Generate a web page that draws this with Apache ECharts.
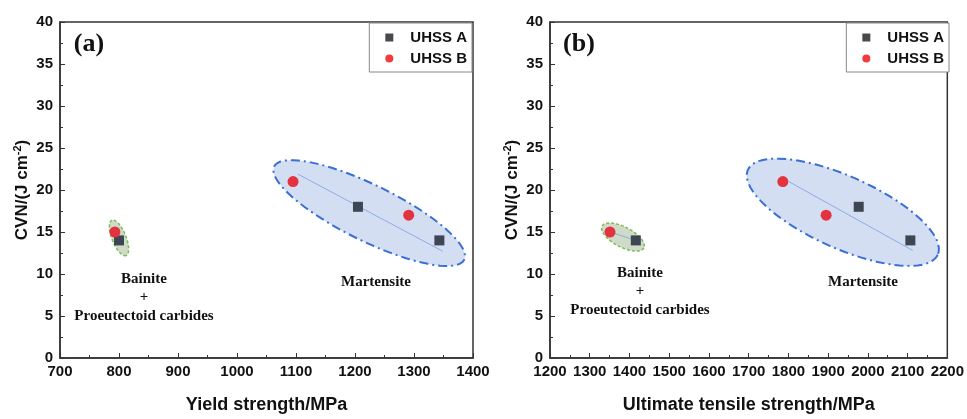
<!DOCTYPE html>
<html lang="en">
<head>
    <meta charset="utf-8">
    <title>CVN vs strength</title>
    <script type="text/javascript" src="https://cdn.jsdelivr.net/npm/echarts@6/dist/echarts.min.js"></script>
    <style>
        html, body { margin: 0; padding: 0; background: #fff; }
    </style>
</head>
<body>
<div id="main" style="width: 967px;height:419px;"></div>
<script>
    // data
    var cvnA = [14, 18, 14];
    var cvnB = [15, 21, 17];
    var ysA = [800, 1205, 1343];
    var ysB = [793, 1095, 1291];
    var utsA = [1416, 1977, 2107];
    var utsB = [1351, 1786, 1895];

    // fitted lines inside the martensite / bainite groups [x1, y1, x2, y2]
    var fitYs = [[1103, 21.9, 1349, 12.7], [793, 15, 800, 14]];
    var fitUts = [[1801, 21.0, 2113, 12.8], [1351, 15, 1416, 14]];

    // ellipse major-axis tips in data units [x1, y1, x2, y2]
    var ellYs = [[1063, 22.8, 1385, 11.7], [788, 16.4, 812, 12.2]];
    var ellUts = [[1698, 22.4, 2176, 12.3], [1331, 15.7, 1436, 13.1]];

    function pairs(xs, ys) {
        var out = [];
        for (var i = 0; i < xs.length; i++) out.push([xs[i], ys[i]]);
        return out;
    }

    var axisFont = {fontFamily: 'Liberation Sans, Arial', fontWeight: 'bold', fontSize: 15, color: '#111'};
    var nameFont = {fontFamily: 'Liberation Sans, Arial', fontWeight: 'bold', fontSize: 18, color: '#111'};

    function xAxisOf(idx, min, max, name) {
        return {
            gridIndex: idx, type: 'value', min: min, max: max, interval: 100,
            name: name, nameLocation: 'middle', nameGap: 38, nameTextStyle: nameFont,
            axisLine: {lineStyle: {color: '#333', width: 1.5}},
            axisTick: {inside: true, length: 5, lineStyle: {color: '#333'}},
            minorTick: {show: true, splitNumber: 2, length: 3, lineStyle: {color: '#333'}},
            axisLabel: Object.assign({margin: 6, formatter: function (v) { return String(v); }}, axisFont),
            splitLine: {show: false}
        };
    }
    function yAxisOf(idx) {
        return {
            gridIndex: idx, type: 'value', min: 0, max: 40, interval: 5,
            name: '{t|CVN/(J cm}{s|-2}{t|)}', nameLocation: 'middle', nameGap: 27, nameRotate: 90,
            nameTextStyle: {rich: {
                t: {fontFamily: 'Liberation Sans, Arial', fontWeight: 'bold', fontSize: 17, color: '#111'},
                s: {fontFamily: 'Liberation Sans, Arial', fontWeight: 'bold', fontSize: 11, color: '#111', padding: [0, 0, 10, 0]}
            }},
            axisLine: {lineStyle: {color: '#333', width: 1.5}},
            axisTick: {inside: true, length: 5, lineStyle: {color: '#333'}},
            minorTick: {show: true, splitNumber: 2, length: 3, lineStyle: {color: '#333'}},
            axisLabel: Object.assign({margin: 7}, axisFont),
            splitLine: {show: false}
        };
    }

    function ellipseSeries(idx, tips, colors) {
        return {
            type: 'custom', xAxisIndex: idx, yAxisIndex: idx, z: 1, silent: true,
            data: tips,
            renderItem: function (params, api) {
                var p1 = api.coord([api.value(0), api.value(1)]);
                var p2 = api.coord([api.value(2), api.value(3)]);
                var cx = (p1[0] + p2[0]) / 2, cy = (p1[1] + p2[1]) / 2;
                var a = Math.sqrt(Math.pow(p2[0] - p1[0], 2) + Math.pow(p2[1] - p1[1], 2)) / 2;
                var ang = Math.atan2(p2[1] - p1[1], p2[0] - p1[0]);
                var b = colors.minor[params.dataIndex];
                var pts = [];
                for (var k = 0; k < 72; k++) {
                    var t = k / 72 * Math.PI * 2;
                    var ex = a * Math.cos(t), ey = b * Math.sin(t);
                    pts.push([cx + ex * Math.cos(ang) - ey * Math.sin(ang), cy + ex * Math.sin(ang) + ey * Math.cos(ang)]);
                }
                var c = colors.list[params.dataIndex];
                return {
                    type: 'polygon', shape: {points: pts},
                    style: {fill: c.fill, stroke: c.stroke, lineWidth: c.w, lineDash: c.dash}
                };
            }
        };
    }
    var ellColors = [
        {fill: 'rgba(200,214,240,0.8)', stroke: '#3a6fd4', w: 2, dash: [9, 4, 2, 4]},
        {fill: 'rgba(200,212,190,0.85)', stroke: '#7cbb57', w: 1.5, dash: [3, 2]}
    ];

    function fitSeries(idx, segs) {
        return {
            type: 'lines', coordinateSystem: 'cartesian2d', xAxisIndex: idx, yAxisIndex: idx, z: 2, silent: true,
            lineStyle: {color: '#8eaae0', width: 1, opacity: 1},
            data: segs.map(function (s) { return {coords: [[s[0], s[1]], [s[2], s[3]]]}; })
        };
    }

    function scatter(idx, name, pts, sym) {
        return {
            type: 'scatter', name: name, xAxisIndex: idx, yAxisIndex: idx, z: 3,
            symbol: sym, symbolSize: sym === 'rect' ? 10 : 11,
            itemStyle: {color: sym === 'rect' ? '#3e4653' : '#e2333f', opacity: 1},
            data: pts
        };
    }

    function legendOf(right) {
        return {
            right: right, top: 23, orient: 'vertical', itemGap: 6,
            itemWidth: 8, itemHeight: 8, padding: [7, 5, 6, 16],
            backgroundColor: '#fff', borderColor: '#888', borderWidth: 1,
            textStyle: Object.assign({padding: [0, 0, 0, 12]}, axisFont),
            data: [{name: 'UHSS A', icon: 'rect', itemStyle: {color: '#4a4a4e'}}, {name: 'UHSS B', icon: 'circle', itemStyle: {color: '#f23a3a'}}]
        };
    }

    function serifText(x, y, str, size) {
        return {
            type: 'text', x: x, y: y, z: 10,
            style: {text: str, fontFamily: 'Liberation Serif, Times New Roman', fontWeight: 'bold', fontSize: size, fill: '#111', align: 'center', verticalAlign: 'middle'}
        };
    }

    var myChart = echarts.init(document.getElementById('main'));
    var option = {
        animation: false,
        grid: [
            {left: 60, top: 22, width: 413, height: 344, show: true, borderColor: '#333', borderWidth: 1.5},
            {left: 550, top: 22, width: 400, height: 344, show: true, borderColor: '#333', borderWidth: 1.5}
        ],
        xAxis: [xAxisOf(0, 700, 1400, 'Yield strength/MPa'), xAxisOf(1, 1200, 2200, 'Ultimate tensile strength/MPa')],
        yAxis: [yAxisOf(0), yAxisOf(1)],
        legend: [legendOf(495), legendOf(18)],
        graphic: [
            serifText(89, 44, '(a)', 26),
            serifText(579, 44, '(b)', 26),
            serifText(144, 279, 'Bainite', 15),
            serifText(144, 297, '+', 15),
            serifText(144, 316, 'Proeutectoid carbides', 15),
            serifText(376, 282, 'Martensite', 15),
            serifText(640, 273, 'Bainite', 15),
            serifText(640, 291, '+', 15),
            serifText(640, 310, 'Proeutectoid carbides', 15),
            serifText(863, 282, 'Martensite', 15)
        ],
        series: [
            ellipseSeries(0, ellYs, {list: ellColors, minor: [28, 7]}),
            ellipseSeries(1, ellUts, {list: ellColors, minor: [36, 10]}),
            fitSeries(0, fitYs),
            fitSeries(1, fitUts),
            scatter(0, 'UHSS A', pairs(ysA, cvnA), 'rect'),
            scatter(0, 'UHSS B', pairs(ysB, cvnB), 'circle'),
            scatter(1, 'UHSS A', pairs(utsA, cvnA), 'rect'),
            scatter(1, 'UHSS B', pairs(utsB, cvnB), 'circle')
        ]
    };
    myChart.setOption(option);
</script>
</body>
</html>
